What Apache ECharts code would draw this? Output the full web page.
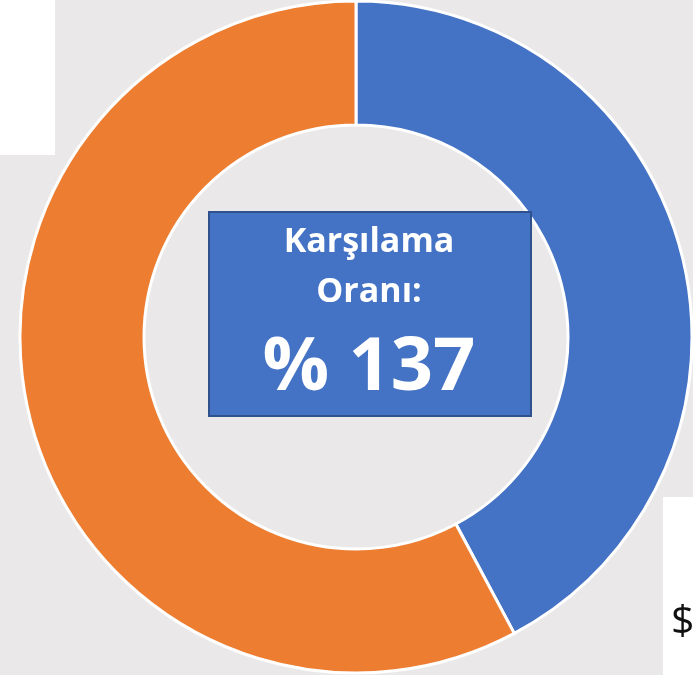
<!DOCTYPE html>
<html>
<head>
<meta charset="utf-8">
<script src="https://cdn.jsdelivr.net/npm/echarts@6/dist/echarts.min.js"></script>
<style>
  html, body { margin: 0; padding: 0; background: #eae8e9; }
  #chart { width: 693px; height: 675px; }
</style>
</head>
<body>
<div id="chart"></div>
<script>
// dilim adları ve değerleri
const categories = ['Gelir', 'Gider']
const values = [100, 137]
const colors = ['#4472c4', '#ed7d31']
const titleLines = ['Karşılama', 'Oranı:']
const ratioText = '% 137'

const myChart = echarts.init(document.getElementById('chart'))

const whiteText = (text, x, y, size) => ({
  type: 'text', x, y, z: 11,
  style: {
    text, fill: '#fff', fontFamily: '"Open Sans"', fontWeight: 'bold', fontSize: size,
    align: 'center', verticalAlign: 'middle'
  }
})

myChart.setOption({
  backgroundColor: '#eae8e9',
  animation: false,
  graphic: [
    // sol üstteki beyaz alan
    { type: 'rect', left: 0, top: 0, shape: { width: 55, height: 155 }, style: { fill: '#ffffff' }, z: 0 },
    // sağ alttaki beyaz alan
    { type: 'rect', left: 663, top: 497, shape: { width: 30, height: 178 }, style: { fill: '#ffffff' }, z: 0 },
    {
      type: 'text', x: 671, y: 622, z: 0,
      style: { text: '$', fontFamily: '"Open Sans"', fontSize: 41, fill: '#111', verticalAlign: 'middle' }
    },
    // ortadaki kutu
    {
      type: 'rect', left: 208, top: 211,
      shape: { width: 322, height: 204 },
      style: { fill: '#4472c4', stroke: '#2f528f', lineWidth: 2 },
      z: 10
    },
    whiteText(titleLines[0], 369, 242, 34),
    whiteText(titleLines[1], 369, 292, 34),
    whiteText(ratioText, 369, 369, 74)
  ],
  series: [
    {
      type: 'pie',
      center: [356, 337],
      radius: [212, 336],
      startAngle: 90,
      label: { show: false },
      labelLine: { show: false },
      itemStyle: { borderColor: '#ffffff', borderWidth: 3 },
      data: categories.map((name, i) => ({
        name,
        value: values[i],
        itemStyle: { color: colors[i] }
      })),
      z: 2
    }
  ]
})
</script>
</body>
</html>
